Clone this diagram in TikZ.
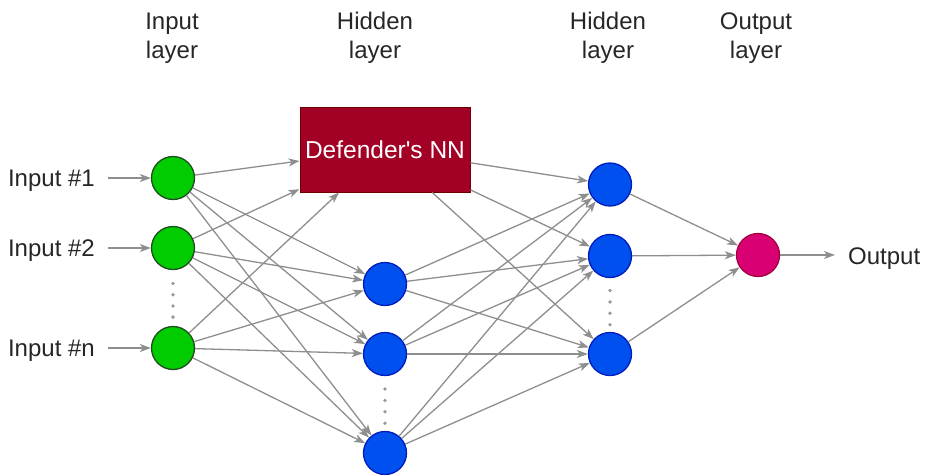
\documentclass[tikz,border=0pt]{standalone}
\usepackage{fontspec}
\setmainfont{Liberation Sans}
% same face without the TeX quote mapping, so ' stays a straight apostrophe
\newfontfamily\boxfont{Liberation Sans}
\usetikzlibrary{arrows.meta}

\definecolor{inGreen}{HTML}{00CC00}
\definecolor{inGreenDark}{HTML}{1F4D1F}
\definecolor{hidBlue}{HTML}{0050EF}
\definecolor{hidBlueDark}{HTML}{001DBC}
\definecolor{outPink}{HTML}{D80073}
\definecolor{outPinkDark}{HTML}{A50040}
\definecolor{nnRed}{HTML}{A20025}
\definecolor{nnRedDark}{HTML}{6F0000}
\definecolor{edgeGray}{HTML}{8E8E8E}
\definecolor{dotGray}{HTML}{9A9A9A}
\definecolor{labelGray}{HTML}{262626}

\begin{document}
\begin{tikzpicture}[x=1pt,y=-1pt,
  neuron/.style={circle,minimum size=43pt,inner sep=0pt,line width=1.3pt},
  innode/.style={neuron,fill=inGreen,draw=inGreenDark},
  hidnode/.style={neuron,fill=hidBlue,draw=hidBlueDark},
  outnode/.style={neuron,fill=outPink,draw=outPinkDark},
  nnbox/.style={rectangle,minimum width=170pt,minimum height=85pt,inner sep=0pt,
    fill=nnRed,draw=nnRedDark,line width=1pt,text=white,
    font=\boxfont\fontsize{24.5}{29}\selectfont},
  link/.style={draw=edgeGray,line width=1.3pt,
    -{Stealth[length=11pt,width=8pt,inset=3pt]}},
  lbl/.style={font=\fontsize{24}{29}\selectfont,text=labelGray,inner sep=0pt},
  vdot/.style={fill=dotGray}
]
\useasboundingbox (0,0) rectangle (926,474);

% layer headings
\node[lbl,align=center] (hdIn)  at (172,38) {Input\\layer};
\node[lbl,align=center] (hdH1)  at (375,38) {Hidden\\layer};
\node[lbl,align=center] (hdH2)  at (608,38) {Hidden\\layer};
\node[lbl,align=center] (hdOut) at (756,38) {Output\\layer};

% input layer
\node[innode] (i1) at (173,178) {};
\node[innode] (i2) at (173,248) {};
\node[innode] (in) at (173,348) {};

% first hidden layer
\node[nnbox] (nn) at (385,149.5) {Defender's NN};
\node[hidnode] (h1) at (385,284) {};
\node[hidnode] (h2) at (385,354) {};
\node[hidnode] (h3) at (385,453) {};

% second hidden layer
\node[hidnode] (g1) at (610,184.5) {};
\node[hidnode] (g2) at (610,256) {};
\node[hidnode] (g3) at (610,354) {};

% output layer
\node[outnode] (o) at (758,255) {};

% input and output labels
\node[lbl,anchor=base east] (l1) at (95,186) {Input \#1};
\node[lbl,anchor=base east] (l2) at (95,256) {Input \#2};
\node[lbl,anchor=base east] (ln) at (95,356) {Input \#n};
\node[lbl,anchor=base west] (ol) at (848,264) {Output};

% ellipsis dots between neurons
\foreach \k in {0,...,3} {
  \fill[vdot] (173,283.5+11.2*\k) circle (1.9pt);
  \fill[vdot] (385,389+11.4*\k) circle (1.9pt);
  \fill[vdot] (610,290.5+11.4*\k) circle (1.9pt);
}

% connections
\draw[link,shorten <=13pt] (l1.east |- i1) -- (i1);
\draw[link,shorten <=13pt] (l2.east |- i2) -- (i2);
\draw[link,shorten <=13pt] (ln.east |- in) -- (in);

\foreach \s in {i1,i2,in}
  \foreach \t in {nn,h1,h2,h3}
    \draw[link] (\s) -- (\t);

\foreach \s in {nn,h1,h2,h3}
  \foreach \t in {g1,g2,g3}
    \draw[link] (\s) -- (\t);

\foreach \s in {g1,g2,g3}
  \draw[link] (\s) -- (o);

\draw[link,shorten >=13pt] (o) -- (ol.west |- o);
\end{tikzpicture}
\end{document}
